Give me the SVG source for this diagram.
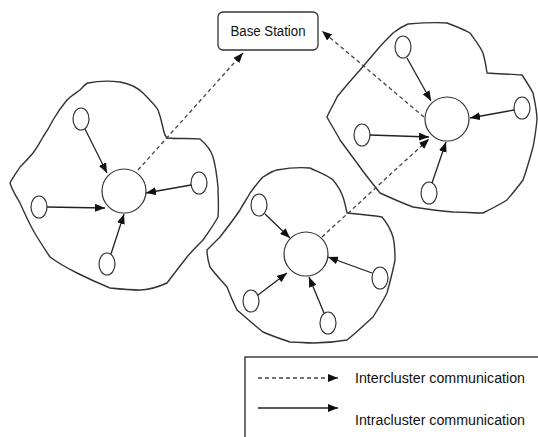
<svg xmlns="http://www.w3.org/2000/svg" width="538" height="437" viewBox="0 0 538 437">
<style>
.blob{fill:none;stroke:#333;stroke-width:1.4;stroke-linejoin:round}
.node{fill:#fff;stroke:#333;stroke-width:1.2}
.solid{stroke:#222;stroke-width:1.3;fill:none;marker-end:url(#ah)}
.dash{stroke:#444;stroke-width:1.3;fill:none;stroke-dasharray:4 3;marker-end:url(#ah)}
text{font-family:"Liberation Sans Narrow","Liberation Sans",Arial,sans-serif;fill:#111}
</style>
<defs>
<marker id="ah" viewBox="0 0 10 8" refX="10" refY="4" markerWidth="10" markerHeight="8" markerUnits="userSpaceOnUse" orient="auto">
<polygon points="0,0 10,4 0,8" fill="#111"/>
</marker>
</defs>
<rect width="538" height="437" fill="#fff"/>
<g id="cluster1">
<path class="blob" d="M88,83 C98,81 112,81 120,82 C130,84 138,88 143,93 C150,100 156,106 158,110 C161,118 162,124 163,128 C164,133 165,136 167,138 C178,139 190,138 200,139 C207,145 211,150 213,157 C216,167 217,177 218,187 C218,197 219,207 218,217 C213,226 208,233 203,240 C197,246 192,251 187,257 C180,266 173,275 167,283 C158,287 149,290 140,290 C130,290 120,289 110,288 C98,283 87,278 77,273 C67,268 58,263 50,257 C44,248 38,239 33,230 C28,221 24,212 20,203 C16,196 12,190 10,183 C13,177 17,172 20,167 C25,162 29,158 33,153 C37,148 40,142 43,137 C47,131 50,126 53,120 C57,113 62,106 67,100 C71,96 76,93 80,90 C83,87 85,84 88,83 Z"/>
<circle class="node" cx="124" cy="191" r="22"/>
<ellipse class="node" cx="81" cy="119" rx="8" ry="11"/>
<ellipse class="node" cx="39" cy="207" rx="8" ry="11"/>
<ellipse class="node" cx="107" cy="264" rx="8" ry="11"/>
<ellipse class="node" cx="199" cy="183" rx="8" ry="11"/>
</g>
<g id="cluster2">
<path class="blob" d="M277,170 C288,168 299,167 310,168 C318,172 327,175 333,180 C338,186 341,191 343,197 C345,203 346,208 347,213 C358,214 370,215 382,217 C387,223 391,230 393,237 C395,245 395,252 395,260 C393,271 390,282 387,293 C383,301 378,309 373,317 C364,325 356,333 347,340 C336,342 324,343 313,343 C305,343 298,342 290,342 C281,339 272,336 263,332 C254,325 245,317 237,310 C233,302 230,295 227,287 C221,280 215,274 210,267 C208,261 207,255 207,250 C211,246 216,241 220,237 C227,228 234,219 240,210 C243,204 247,199 250,193 C254,188 258,182 263,177 C268,174 272,171 277,170 Z"/>
<circle class="node" cx="306" cy="254" r="22"/>
<ellipse class="node" cx="259" cy="205" rx="8" ry="11"/>
<ellipse class="node" cx="251" cy="301" rx="8" ry="11"/>
<ellipse class="node" cx="328" cy="323" rx="8" ry="11"/>
<ellipse class="node" cx="380" cy="278" rx="8" ry="11"/>
</g>
<g id="cluster3">
<path class="blob" d="M408,24 C421,23 434,22 447,23 C455,26 463,29 470,33 C475,40 480,46 483,53 C485,60 486,66 487,73 C499,74 510,74 522,75 C526,81 530,87 533,93 C535,102 537,111 537,120 C536,129 535,138 533,147 C530,158 527,169 523,180 C518,187 512,194 507,200 C499,205 491,209 483,213 C473,213 463,212 453,212 C440,211 426,209 413,207 C402,203 391,198 380,193 C372,183 364,173 357,163 C351,155 346,148 340,140 C336,132 331,125 327,117 C330,110 334,104 337,97 C344,88 352,79 360,70 C366,63 371,57 377,50 C382,44 388,38 393,33 C398,29 403,26 408,24 Z"/>
<circle class="node" cx="447" cy="119" r="22"/>
<ellipse class="node" cx="403" cy="47" rx="8" ry="11"/>
<ellipse class="node" cx="362" cy="135" rx="8" ry="11"/>
<ellipse class="node" cx="429" cy="193" rx="8" ry="11"/>
<ellipse class="node" cx="522" cy="108" rx="8" ry="11"/>
</g>
<g id="base-station">
<rect x="218" y="12" width="100" height="38" rx="5" ry="5" fill="#fff" stroke="#333" stroke-width="1.3"/>
<text x="268" y="36" font-size="14" text-anchor="middle" textLength="75" lengthAdjust="spacingAndGlyphs">Base Station</text>
</g>
<g id="connectors">
<line class="solid" x1="85" y1="129" x2="107" y2="173"/>
<line class="solid" x1="47" y1="207" x2="105" y2="208"/>
<line class="solid" x1="111" y1="254" x2="124" y2="214"/>
<line class="solid" x1="191" y1="185" x2="146" y2="193"/>
<line class="solid" x1="265" y1="214" x2="290" y2="238"/>
<line class="solid" x1="258" y1="295" x2="287" y2="273"/>
<line class="solid" x1="324" y1="313" x2="309" y2="277"/>
<line class="solid" x1="372" y1="273" x2="328" y2="257"/>
<line class="solid" x1="407" y1="58" x2="431" y2="101"/>
<line class="solid" x1="370" y1="135" x2="429" y2="137"/>
<line class="solid" x1="432" y1="183" x2="446" y2="142"/>
<line class="solid" x1="514" y1="110" x2="470" y2="118"/>
<line class="dash" x1="138" y1="170" x2="243" y2="53"/>
<line class="dash" x1="424" y1="117" x2="322" y2="31"/>
<line class="dash" x1="322" y1="237" x2="429" y2="139"/>
</g>
<g id="legend">
<rect x="245" y="357" width="300" height="90" fill="none" stroke="#222" stroke-width="1.3"/>
<line class="dash" x1="258" y1="378" x2="338" y2="378"/>
<line class="solid" x1="258" y1="408" x2="338" y2="408"/>
<text x="355" y="383" font-size="14" textLength="170" lengthAdjust="spacingAndGlyphs">Intercluster communication</text>
<text x="355" y="425" font-size="14" textLength="170" lengthAdjust="spacingAndGlyphs">Intracluster communication</text>
</g>
</svg>
